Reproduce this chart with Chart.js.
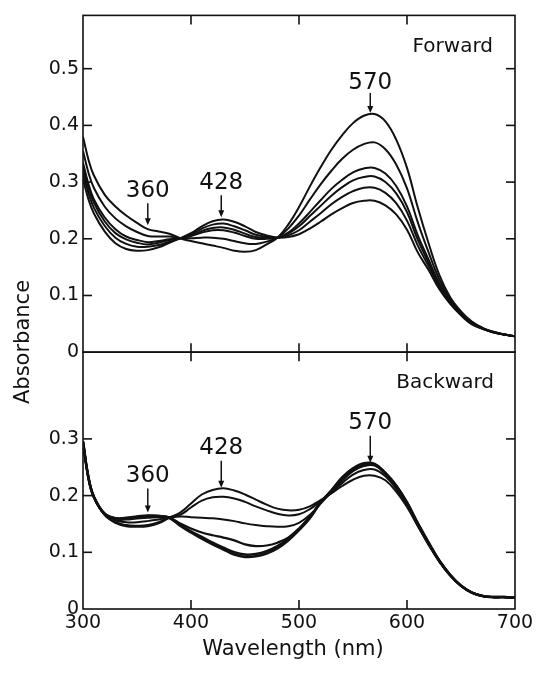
<!DOCTYPE html>
<html>
<head>
<meta charset="utf-8">
<title>Forward / Backward spectra</title>
<script src="https://cdn.jsdelivr.net/npm/chart.js@4.4.1/dist/chart.umd.min.js"></script>
<style>
    html, body { margin: 0; padding: 0; background: #fff; }
    #wrap { width: 540px; height: 674px; }
</style>
</head>
<body>
<div id="wrap"><canvas id="js-spectra" width="540" height="674"></canvas></div>
<script>
// Wavelength grid (nm)
const wavelengths = [300, 305, 310, 320, 330, 340, 350, 360, 370, 380, 390, 400, 410, 420, 430, 440, 450, 460, 470, 480, 490, 500, 510, 520, 530, 540, 550, 560, 570, 580, 590, 600, 610, 620, 630, 640, 650, 660, 670, 680, 690, 700];

// Forward panel, six spectra (highest 570 band first)
const forward1 = [0.380, 0.340, 0.312, 0.278, 0.257, 0.241, 0.228, 0.217, 0.213, 0.209, 0.201, 0.196, 0.192, 0.188, 0.184, 0.179, 0.177, 0.180, 0.190, 0.202, 0.225, 0.256, 0.292, 0.326, 0.357, 0.383, 0.404, 0.417, 0.420, 0.407, 0.375, 0.325, 0.255, 0.192, 0.136, 0.097, 0.072, 0.054, 0.043, 0.036, 0.031, 0.028];
const forward2 = [0.355, 0.317, 0.290, 0.257, 0.236, 0.222, 0.212, 0.205, 0.204, 0.204, 0.201, 0.201, 0.202, 0.202, 0.200, 0.196, 0.192, 0.191, 0.195, 0.202, 0.218, 0.241, 0.269, 0.296, 0.320, 0.341, 0.357, 0.367, 0.370, 0.358, 0.331, 0.289, 0.229, 0.176, 0.128, 0.093, 0.070, 0.053, 0.042, 0.036, 0.031, 0.028];
const forward3 = [0.334, 0.297, 0.270, 0.238, 0.217, 0.204, 0.198, 0.194, 0.196, 0.199, 0.201, 0.205, 0.211, 0.215, 0.215, 0.211, 0.205, 0.200, 0.200, 0.202, 0.211, 0.227, 0.247, 0.268, 0.288, 0.304, 0.317, 0.324, 0.325, 0.315, 0.293, 0.257, 0.206, 0.163, 0.121, 0.090, 0.068, 0.052, 0.042, 0.035, 0.031, 0.028];
const forward4 = [0.326, 0.290, 0.264, 0.231, 0.210, 0.199, 0.193, 0.190, 0.193, 0.198, 0.201, 0.206, 0.214, 0.219, 0.220, 0.216, 0.209, 0.203, 0.202, 0.202, 0.209, 0.222, 0.240, 0.258, 0.276, 0.291, 0.303, 0.309, 0.310, 0.300, 0.280, 0.247, 0.198, 0.158, 0.118, 0.088, 0.067, 0.051, 0.041, 0.035, 0.031, 0.028];
const forward5 = [0.316, 0.281, 0.255, 0.223, 0.202, 0.191, 0.186, 0.186, 0.189, 0.195, 0.201, 0.208, 0.218, 0.225, 0.227, 0.222, 0.215, 0.207, 0.204, 0.202, 0.206, 0.215, 0.230, 0.245, 0.261, 0.274, 0.284, 0.290, 0.290, 0.281, 0.263, 0.232, 0.188, 0.152, 0.115, 0.087, 0.066, 0.051, 0.041, 0.035, 0.031, 0.028];
const forward6 = [0.305, 0.270, 0.245, 0.213, 0.192, 0.182, 0.179, 0.180, 0.185, 0.193, 0.201, 0.210, 0.222, 0.231, 0.234, 0.230, 0.222, 0.212, 0.206, 0.202, 0.203, 0.208, 0.218, 0.230, 0.243, 0.254, 0.263, 0.267, 0.267, 0.259, 0.243, 0.216, 0.176, 0.145, 0.111, 0.085, 0.065, 0.049, 0.041, 0.035, 0.031, 0.028];

// Backward panel, six spectra (highest 428 band first)
const backward1 = [0.295, 0.232, 0.198, 0.166, 0.152, 0.146, 0.145, 0.146, 0.151, 0.161, 0.170, 0.186, 0.202, 0.210, 0.213, 0.209, 0.202, 0.193, 0.184, 0.177, 0.174, 0.175, 0.181, 0.192, 0.204, 0.217, 0.228, 0.235, 0.235, 0.227, 0.207, 0.180, 0.146, 0.113, 0.083, 0.059, 0.041, 0.029, 0.023, 0.021, 0.021, 0.020];
const backward2 = [0.295, 0.232, 0.198, 0.166, 0.153, 0.148, 0.147, 0.148, 0.153, 0.161, 0.166, 0.179, 0.191, 0.197, 0.198, 0.195, 0.189, 0.181, 0.174, 0.168, 0.165, 0.167, 0.176, 0.190, 0.205, 0.222, 0.237, 0.245, 0.246, 0.234, 0.212, 0.183, 0.148, 0.114, 0.084, 0.059, 0.041, 0.029, 0.023, 0.021, 0.021, 0.020];
const backward3 = [0.295, 0.232, 0.198, 0.167, 0.156, 0.153, 0.153, 0.155, 0.158, 0.161, 0.163, 0.162, 0.161, 0.160, 0.158, 0.155, 0.151, 0.148, 0.146, 0.145, 0.146, 0.152, 0.166, 0.186, 0.206, 0.226, 0.243, 0.252, 0.253, 0.238, 0.215, 0.185, 0.149, 0.115, 0.084, 0.060, 0.041, 0.029, 0.023, 0.021, 0.021, 0.020];
const backward4 = [0.295, 0.232, 0.198, 0.167, 0.158, 0.158, 0.160, 0.161, 0.162, 0.161, 0.151, 0.142, 0.135, 0.130, 0.126, 0.121, 0.114, 0.111, 0.112, 0.117, 0.126, 0.142, 0.163, 0.187, 0.208, 0.230, 0.246, 0.255, 0.255, 0.239, 0.217, 0.187, 0.150, 0.116, 0.085, 0.060, 0.041, 0.029, 0.023, 0.021, 0.021, 0.020];
const backward5 = [0.295, 0.232, 0.198, 0.168, 0.160, 0.160, 0.162, 0.164, 0.164, 0.161, 0.148, 0.137, 0.127, 0.117, 0.108, 0.100, 0.096, 0.097, 0.102, 0.111, 0.124, 0.141, 0.161, 0.188, 0.209, 0.231, 0.247, 0.255, 0.255, 0.239, 0.217, 0.187, 0.151, 0.117, 0.085, 0.060, 0.041, 0.029, 0.023, 0.021, 0.021, 0.020];
const backward6 = [0.295, 0.232, 0.198, 0.168, 0.160, 0.161, 0.163, 0.165, 0.164, 0.161, 0.147, 0.135, 0.124, 0.114, 0.105, 0.096, 0.092, 0.093, 0.098, 0.107, 0.121, 0.139, 0.160, 0.188, 0.209, 0.232, 0.248, 0.257, 0.256, 0.240, 0.218, 0.188, 0.151, 0.117, 0.085, 0.060, 0.041, 0.029, 0.023, 0.021, 0.021, 0.020];

// Tick labels
const xTicks = [300, 400, 500, 600, 700];
const topTicks = [0, 0.1, 0.2, 0.3, 0.4, 0.5];
const bottomTicks = [0, 0.1, 0.2, 0.3];

const ink = "#111";
const fontFamily = "'DejaVu Sans', sans-serif";

// Band markers: label, wavelength and absorbance of the arrow tip
const markers = [
    { text: "360", x: 360, y: 0.224, axis: "yTop", len: 22, gap: 12 },
    { text: "428", x: 428, y: 0.238, axis: "yTop", len: 22, gap: 12 },
    { text: "570", x: 566, y: 0.422, axis: "yTop", len: 20, gap: 10 },
    { text: "360", x: 360, y: 0.170, axis: "yBottom", len: 24, gap: 13 },
    { text: "428", x: 428, y: 0.214, axis: "yBottom", len: 27, gap: 13 },
    { text: "570", x: 566, y: 0.258, axis: "yBottom", len: 27, gap: 13 },
];

function toPoints(values) {
    return wavelengths.map((x, i) => ({ x: x, y: values[i] }));
}

function spectrum(values, axis, width) {
    return {
        data: toPoints(values),
        yAxisID: axis,
        borderColor: ink,
        borderWidth: width || 2,
        pointRadius: 0,
        fill: false,
        tension: 0.4,
    };
}

function line(ctx, x1, y1, x2, y2) {
    ctx.beginPath();
    ctx.moveTo(x1, y1);
    ctx.lineTo(x2, y2);
    ctx.stroke();
}

// Frame, inward ticks, band markers and axis titles
const framePlugin = {
    id: "frame",
    afterDatasetsDraw(chart) {
        const { ctx, chartArea: area, scales } = chart;
        const panels = [scales.yTop, scales.yBottom];
        ctx.save();
        ctx.strokeStyle = ink;
        ctx.fillStyle = ink;
        ctx.lineWidth = 1.6;

        panels.forEach((s) => {
            ctx.strokeRect(area.left, s.top, area.right - area.left, s.bottom - s.top);
            s.ticks.forEach((t) => {
                const y = s.getPixelForValue(t.value);
                if (y >= s.bottom - 1) return;
                line(ctx, area.left, y, area.left + 9, y);
                line(ctx, area.right - 9, y, area.right, y);
            });
        });

        const mid = scales.yTop.bottom;
        xTicks.slice(1, -1).forEach((v) => {
            const x = scales.x.getPixelForValue(v);
            line(ctx, x, area.top, x, area.top + 9);
            line(ctx, x, mid - 9, x, mid + 9);
            line(ctx, x, area.bottom - 9, x, area.bottom);
        });

        // markers
        ctx.lineWidth = 1.5;
        ctx.textAlign = "center";
        ctx.textBaseline = "middle";
        ctx.font = "23px " + fontFamily;
        markers.forEach((m) => {
            const x = scales.x.getPixelForValue(m.x);
            const y = scales[m.axis].getPixelForValue(m.y);
            line(ctx, x, y - m.len, x, y - 5);
            ctx.beginPath();
            ctx.moveTo(x, y);
            ctx.lineTo(x - 3, y - 7);
            ctx.lineTo(x + 3, y - 7);
            ctx.closePath();
            ctx.fill();
            ctx.fillText(m.text, x, y - m.len - m.gap);
        });

        // panel names
        ctx.font = "20px " + fontFamily;
        ctx.textAlign = "right";
        ctx.fillText("Forward", area.right - 22, scales.yTop.top + 31);
        ctx.fillText("Backward", area.right - 21, scales.yBottom.top + 31);

        // axis titles
        ctx.font = "21px " + fontFamily;
        ctx.textAlign = "center";
        ctx.fillText("Wavelength (nm)", 293, 650);
        ctx.translate(24, 342);
        ctx.rotate(-Math.PI / 2);
        ctx.fillText("Absorbance", 0, 0);
        ctx.restore();
    },
};

function fixedTicks(list) {
    return function (scale) {
        scale.ticks = list.map((v) => ({ value: v }));
    };
}

function tickLabel(value) {
    return value === 0 ? "0" : value.toFixed(1);
}

const tickFont = { family: fontFamily, size: 19 };

new Chart(document.getElementById("js-spectra"), {
    type: "line",
    data: {
        datasets: [
            spectrum(forward1, "yTop"),
            spectrum(forward2, "yTop"),
            spectrum(forward3, "yTop"),
            spectrum(forward4, "yTop"),
            spectrum(forward5, "yTop"),
            spectrum(forward6, "yTop"),
            spectrum(backward1, "yBottom"),
            spectrum(backward2, "yBottom"),
            spectrum(backward3, "yBottom"),
            spectrum(backward4, "yBottom", 2.2),
            spectrum(backward5, "yBottom", 2.6),
            spectrum(backward6, "yBottom", 2.6),
        ],
    },
    options: {
        responsive: false,
        animation: false,
        devicePixelRatio: 1,
        layout: { padding: { top: 12, right: 25, bottom: 0, left: 0 } },
        plugins: { legend: { display: false }, tooltip: { enabled: false } },
        scales: {
            x: {
                type: "linear",
                min: 300,
                max: 700,
                grid: { display: false, drawTicks: false },
                border: { display: false },
                afterBuildTicks: fixedTicks(xTicks),
                afterFit: (s) => { s.height = 65; },
                ticks: { color: ink, font: tickFont, padding: 3, maxRotation: 0 },
            },
            yTop: {
                type: "linear",
                position: "left",
                stack: "panels",
                stackWeight: 0.594,
                weight: 2,
                min: 0,
                max: 0.594,
                grid: { display: false, drawTicks: false },
                border: { display: false },
                afterBuildTicks: fixedTicks(topTicks),
                afterFit: (s) => { s.width = 83; },
                ticks: { color: ink, font: tickFont, padding: 4, callback: tickLabel },
            },
            yBottom: {
                type: "linear",
                position: "left",
                stack: "panels",
                stackWeight: 0.453,
                weight: 1,
                min: 0,
                max: 0.453,
                grid: { display: false, drawTicks: false },
                border: { display: false },
                afterBuildTicks: fixedTicks(bottomTicks),
                afterFit: (s) => { s.width = 83; },
                ticks: { color: ink, font: tickFont, padding: 4, callback: tickLabel },
            },
        },
    },
    plugins: [framePlugin],
});
</script>
</body>
</html>
